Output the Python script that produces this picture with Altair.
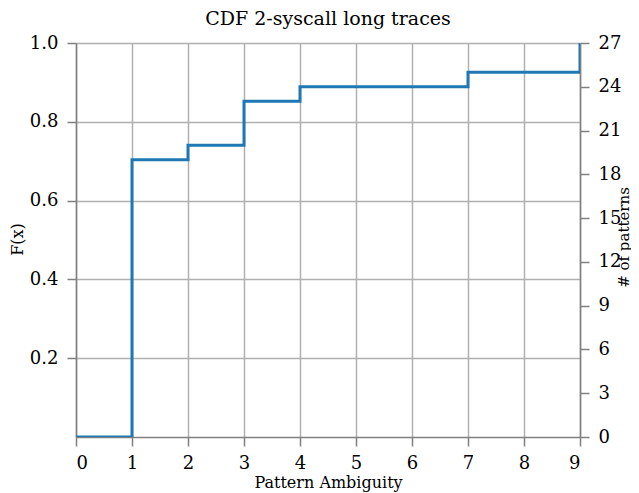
import altair as alt
import pandas as pd

ambiguity = [0, 1, 2, 3, 4, 7, 9]
patterns = [0, 19, 20, 23, 24, 25, 27]
total = 27
f_ticks = [0.2, 0.4, 0.6, 0.8, 1.0]
n_ticks = [0, 3, 6, 9, 12, 15, 18, 21, 24, 27]
x_ticks = list(range(10))

df = pd.DataFrame({
    "x": ambiguity,
    "n": patterns,
    "F": [p / total for p in patterns],
})

FONT = "DejaVu Serif"
GRID = "#b0b0b0"
DOMAIN = "#808080"
LBL = 18
TTL = 16

common = dict(domainColor=DOMAIN, domainWidth=1.5,
              tickColor=DOMAIN, tickWidth=1.5, tickSize=9,
              labelFont=FONT, labelFontSize=LBL, labelColor="black",
              titleFont=FONT, titleFontSize=TTL, titleFontWeight="normal",
              titleColor="black")

xenc = alt.X("x:Q", scale=alt.Scale(domain=[0, 9], nice=False, zero=False),
             axis=alt.Axis(values=x_ticks, title="Pattern Ambiguity", format="d",
                           grid=True, gridColor=GRID, gridWidth=1.5,
                           labelPadding=8, titleX=252, titleY=50,
                           titleBaseline="alphabetic", titleAlign="center",
                           **common))

cdf = alt.Chart(df).mark_line(
    interpolate="step-after", color="#1f77b4", strokeWidth=3, clip=True
).encode(
    x=xenc,
    y=alt.Y("F:Q", scale=alt.Scale(domain=[0, 1], nice=False),
            axis=alt.Axis(values=f_ticks, title="F(x)", orient="left",
                          grid=True, gridColor=GRID, gridWidth=1.5,
                          labelPadding=9, titleX=-59, titleY=196,
                          titleAngle=270, titleAlign="center",
                          titleBaseline="middle",
                          **common)),
)

counts = alt.Chart(df).mark_line(opacity=0).encode(
    x=alt.X("x:Q", scale=alt.Scale(domain=[0, 9], nice=False, zero=False)),
    y=alt.Y("n:Q", scale=alt.Scale(domain=[0, 27], nice=False),
            axis=alt.Axis(values=n_ticks, title="# of patterns", orient="right",
                          grid=False, labelPadding=9,
                          titleX=43, titleY=194, titleAngle=270,
                          titleFontSize=15,
                          titleAlign="center", titleBaseline="middle",
                          **{k: v for k, v in common.items() if k != "titleFontSize"})),
)

chart = alt.layer(cdf, counts).resolve_scale(y="independent").properties(
    width=504, height=394,
    title=alt.TitleParams("CDF 2-syscall long traces", font=FONT, fontSize=19,
                          fontWeight="normal", color="black", offset=5),
    autosize=alt.AutoSizeParams(type="none"),
    padding={"left": 68, "top": 35, "right": 51, "bottom": 56},
).configure_view(stroke=None)

chart.save("out.html", embed_options={"renderer": "svg", "actions": False})
